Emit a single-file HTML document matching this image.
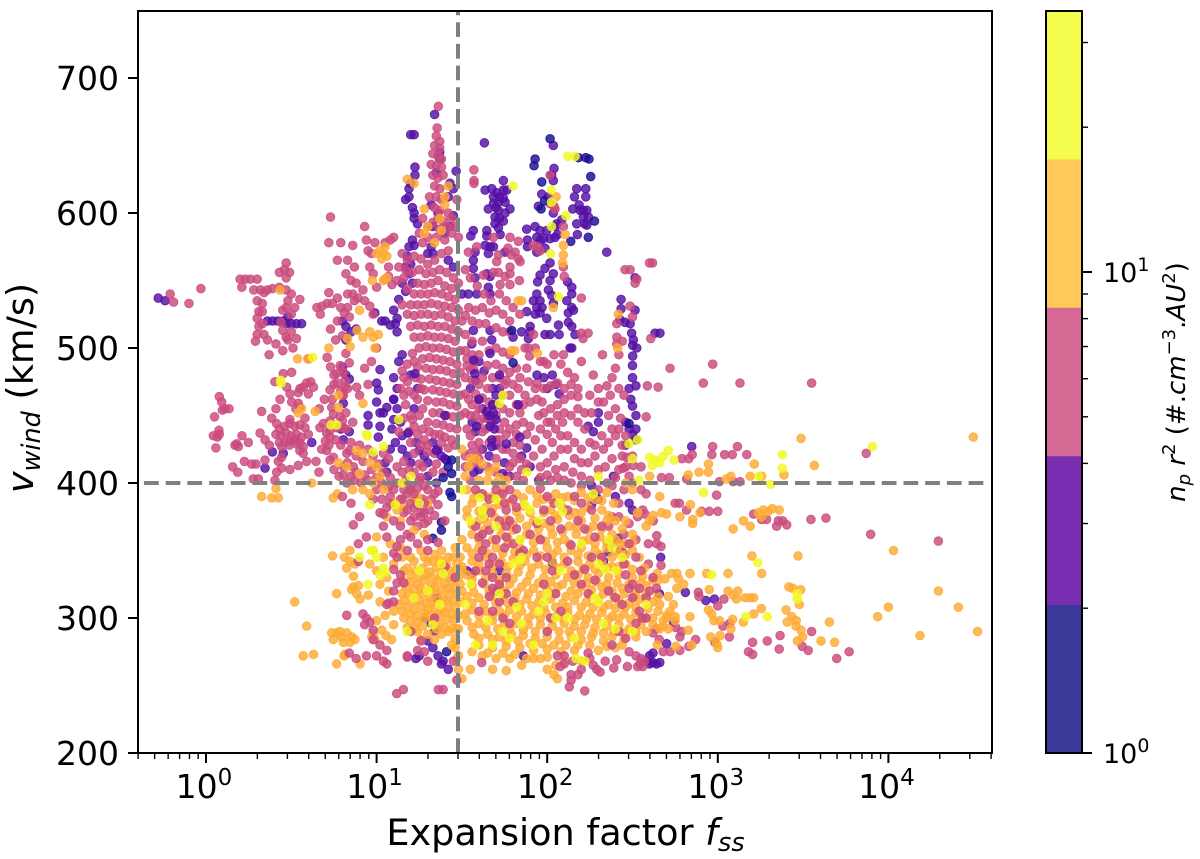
<!DOCTYPE html>
<html lang="en">
<head>
<meta charset="utf-8">
<title>Wind speed versus expansion factor</title>
<style>
html,body{margin:0;padding:0;background:#fff;width:1200px;height:859px;overflow:hidden}
svg{display:block}
text{font-family:"DejaVu Sans","Liberation Sans",sans-serif;fill:#000}
.it{font-style:italic}
</style>
</head>
<body>
<svg id="chart" xmlns="http://www.w3.org/2000/svg" width="1200" height="859" viewBox="0 0 1200 859">
<rect width="1200" height="859" fill="#fff"/>
<g id="marks"></g>
<g id="guides"></g>
<g id="axes"></g>
<g id="cbar"></g>
<text x="565.5" y="845" font-size="36.6" text-anchor="middle">Expansion factor <tspan class="it">f</tspan><tspan class="it" font-size="25.5" dy="6">ss</tspan></text>
<text transform="translate(33,388) rotate(-90)" font-size="36.6" text-anchor="middle"><tspan class="it">v</tspan><tspan class="it" font-size="25.5" dy="7">wind</tspan><tspan dy="-7"> (km/s)</tspan></text>
<text transform="translate(1185,382) rotate(-90)" font-size="26" text-anchor="middle"><tspan class="it">n</tspan><tspan class="it" font-size="18" dy="5">p</tspan><tspan class="it" dy="-5"> r</tspan><tspan font-size="18" dy="-10">2</tspan><tspan dy="10"> (#.</tspan><tspan class="it">cm</tspan><tspan font-size="18" dy="-10">−3</tspan><tspan dy="10">.</tspan><tspan class="it">AU</tspan><tspan font-size="18" dy="-10">2</tspan><tspan dy="10">)</tspan></text>
</svg>
<script>
// Axis settings and tick labels
const xDecades = [0, 1, 2, 3, 4];
const yTicks = [200, 300, 400, 500, 600, 700];
const fssThreshold = 30;
const windThreshold = 400;
const colorbarFills = ['#f3fb4c', '#ffc85a', '#d46a93', '#7a2db0', '#3b3a9b'];
const colorbarMajorTicks = [1, 10];
const colorbarMinorTicks = [2, 3, 4, 5, 6, 7, 8, 9, 20, 30];

// Points: [log10(fss), vwind in km/s]
const bluePoints = [[2.017,655],[1.929,640],[1.923,635],[1.968,623],[2.255,627],[2.183,641],[2.226,641],[2.245,640],[1.984,609],[1.964,603],[2.277,594],[2.241,582],[2.138,579],[1.792,513],[1.8,489],
[1.44,417],[1.44,407],[1.39,404],[1.44,390],[1.38,371],[1.38,365],[1.33,359],[1.41,275],[2.48,444],[2.03,341],[1.42,412],[1.43,393]];

const purplePoints = [[-.28,537],[-.24,535],[.36,520],[.39,520],[.42,520],[.45,520],[.48,523],[.5,518],[.53,518],[.56,518],[.47,518],
[1.2,658],[1.22,658],[1.34,673],[1.225,634],[1.225,628],[1.19,618],[1.17,610],[1.2,622],[1.21,604],[1.22,600],[1.19,612],[1.22,596],[1.24,592],[1.21,580],[1.22,576],[1.19,575],[1.18,568],[1.2,562],[1.17,560],[1.19,555],[1.21,548],[1.15,548],[1.17,542],[1.13,536],[1.1,528],[1.12,522],[1.08,517],[1.12,512],[1.11,518],[.99,526],[1.03,520],[1.05,520],[.82,516],[.8,520],[.85,512],[.82,506],[.8,486],[.82,480],[.88,514],[.84,477],[.389,423],[.453,422],[.346,411],[.62,430],[.805,459],[.84,438],[.805,432],[.79,440],[.95,450],[.95,443],[1.0,460],[1.02,452],
[1.37,645],[1.37,640],[1.35,630],[1.466,631],[1.43,622],[1.45,618],[1.42,612],[1.32,606],[1.36,600],[1.45,598],[1.43,590],[1.4,585],[1.33,590],[1.3,570],[1.33,570],[1.32,575],[1.42,565],[1.45,560],
[1.632,652],[2.036,650],[2.04,633],[2.026,628],[2.036,624],[1.743,624],[1.675,618],[1.743,617],[1.636,617],[1.704,615],[1.763,617],[1.685,612],[1.743,611],[1.714,608],[1.753,608],[1.685,607],[1.655,603],[1.714,602],[1.782,603],[1.694,597],[1.753,600],[1.694,592],[1.743,594],[1.714,589],[1.646,587],[1.724,584],[1.646,583],[1.72,612],[1.7,604],[1.72,596],[1.567,587],[1.552,583],
[1.665,575],[1.636,576],[1.655,570],[1.685,575],[1.577,571],[1.567,565],[1.567,559],[1.577,552],[1.646,555],[1.665,553],[1.655,545],[1.665,540],[1.587,540],[1.538,540],[1.5,540],[1.753,571],
[1.88,588],[1.884,580],[1.884,575],[1.929,590],[1.958,587],[1.939,582],[1.997,587],[1.978,581],[2.017,581],[2.046,582],[2.056,592],[2.085,595],[2.036,600],[1.948,605],[1.968,614],[2.007,612],[2.05,590],[2.06,584],[1.96,580],[2.173,618],[2.226,618],[2.16,612],[2.226,612],[2.187,606],[2.15,603],[2.193,602],[2.232,602],[2.242,597],[2.212,597],[2.173,592],[2.232,591],[2.177,584],[2.21,602],[2.22,592],[1.987,574],[1.939,571],[2.349,571],
[2.017,563],[1.987,559],[1.958,554],[2.036,555],[2.017,550],[2.007,543],[2.026,539],[1.944,549],[1.939,540],[1.919,535],[1.958,535],[1.939,530],[1.958,526],[1.88,527],[1.997,522],[1.9,516],[2.066,517],[2.07,510],[1.987,510],[2.017,510],[1.93,525],[1.97,530],
[2.12,549],[2.144,545],[2.144,540],[2.115,535],[2.144,530],[2.124,526],[2.154,528],[2.124,519],[2.144,516],[2.163,510],[2.134,500],[2.144,500],[2.036,533],[2.433,536],[2.433,529],[2.427,521],[2.456,519],[2.486,518],[2.515,528],[2.495,511],[2.505,506],[2.501,502],[2.525,500],[2.501,494],[2.632,511],[2.661,511],[2.515,552],[2.5,478],[2.52,472],[2.49,462],[2.5,457],[2.52,450],[2.46,445],[2.48,440],[2.5,436],[2.52,432],[2.46,428],[2.5,487],[2.48,470],[1.85,512],[1.9,512],[1.89,507],[1.8,508],[1.665,513],[1.675,506],[1.567,513],[1.558,503],
[2.24,442],[2.27,438],[2.3,445],[2.3,452],[2.03,480],[2.05,473],[2.07,466],[1.98,478],[2.0,470],
[1.13,490],[1.15,495],[1.1,478],[1.12,470],[1.1,462],[1.12,455],[1.1,447],[1.14,445],[1.09,440],[1.15,435],[1.11,430],[1.08,425],[1.15,425],[1.18,420],[1.2,415],[1.23,430],[1.25,424],[1.28,420],[1.3,415],[1.33,430],[1.36,425],[1.4,418],[1.3,405],[1.35,400],[1.2,480],[1.24,470],[1.22,455],[1.05,415],[1.06,408],
[1.6,490],[1.63,483],[1.58,476],[1.55,470],[1.6,462],[1.62,455],[1.65,448],[1.56,445],[1.58,438],[1.68,470],[1.7,465],[1.72,470],[1.68,458],[1.62,425],[1.66,420],[1.7,428],[1.75,415],[1.6,410],[1.78,405],[1.85,420],[1.88,426],[1.9,412],[1.95,402],[1.57,408],
[2.847,427],[2.81,319],[2.93,313],[2.98,314],[2.7,281],[2.665,345],[2.446,348],[2.36,349],[2.417,359],[2.388,405],[2.4,390],[2.26,398],[2.26,384],[2.33,342],[2.657,318],[2.52,440],[2.5,380],[2.48,385],[2.28,392],[2.3,388],
[1.3,283],[1.33,278],[1.36,272],[1.39,268],[1.42,262],[1.38,266],[1.34,290],[1.32,296],[1.28,300],[1.35,315],[1.25,272],[1.23,270],[1.53,335],[1.56,333],[1.72,335],[1.86,272],[2.58,268],[2.6,266],[2.62,267],[2.64,266],[2.66,267],[2.6,272],[2.62,274],[2.74,297]];

const pinkPoints = [[-.21,540],[-.19,534],[-.1,533],[-.03,544],[.2,551],[.23,551],[.26,551],[.3,551],[.21,545],[.28,543],[.32,543],[.36,543],[.39,544],[.43,545],
[.47,563],[.46,558],[.49,556],[.43,556],[.47,552],[.47,543],[.5,540],[.55,536],[.48,535],[.52,530],[.45,528],[.5,525],[.47,530],[.3,535],[.33,533],[.34,541],[.31,527],[.33,527],[.3,522],[.31,516],[.33,518],[.3,510],[.34,510],[.36,506],[.29,505],[.45,513],[.48,506],[.53,507],[.51,500],[.45,498],[.41,503],[.37,495],[.47,508],[.44,519],[.5,512],[.6,492],
[.078,464],[.092,460],[.111,455],[.135,455],[.096,454],[.05,449],[.076,439],[.066,434],[.043,435],[.078,436],[.058,426],[.211,435],[.248,430],[.18,429],[.17,428],[.19,427],[.317,437],[.326,453],[.41,455],[.225,416],[.268,414],[.293,414],[.156,412],[.186,408],[.277,403],[.307,403],[.346,417],
[.453,481],[.502,482],[.404,475],[.473,471],[.492,466],[.434,462],[.502,460],[.541,459],[.57,471],[.551,470],[.541,467],[.59,474],[.614,475],[.63,471],[.6,466],[.527,455],[.492,447],[.58,448],[.551,456],[.694,462],[.664,455],[.727,469],[.786,487],[.766,481],[.75,473],[.805,482],[.815,476],[.815,471],[.805,465],[.883,471],[.737,456],
[.385,448],[.414,444],[.43,440],[.46,442],[.49,444],[.52,442],[.55,443],[.58,441],[.41,436],[.44,435],[.47,437],[.5,435],[.53,436],[.56,434],[.6,436],[.43,430],[.46,430],[.49,431],[.52,432],[.55,430],[.57,427],[.53,429],[.55,424],[.57,422],
[.346,432],[.371,428],[.443,427],[.488,428],[.443,419],[.424,416],[.443,411],[.414,408],[.404,402],[.492,410],[.541,413],[.59,416],[.645,416],[.662,408],[.678,425],[.707,424],[.747,419],[.805,412],[.727,417],[.707,437],[.727,434],[.688,444],[.727,446],[.668,441],[.747,451],[.786,449],[.766,441],[.727,439],[.805,441],[.825,422],[.864,412],[.805,406],[.825,400],[.76,432],[.79,428],[.72,428],[.75,410],[.78,405],[.85,430],[.85,405],[.7,431],
[.65,530],[.68,531],[.71,533],[.74,533],[.67,525],[.77,537],[.79,530],[.81,526],[.77,520],[.73,514],[.8,509],[.76,506],[.84,523],[.87,535],[.72,541],[.83,530],
[.93,590],[.73,597],[.72,578],[.79,578],[.77,565],[.86,576],[.83,565],[.87,560],[.82,555],[.85,550],[.88,548],[.86,540],[.89,537],[.83,540],[.94,580],[.95,572],[.99,578],[.97,570],[.98,555],[.96,560],[1.0,545],[.92,543],[.93,535],[.96,531],[.98,525],[1.05,551],[1.07,553],[1.09,547],[1.07,560],[1.05,578],[1.08,580],[1.1,582],
[.71,493],[.73,486],[.75,480],[.77,474],[.79,468],[.74,462],[.82,496],[.84,489],[.83,470],[.9,465],[.95,473],[1.0,500],[.93,485],[.97,490],
[1.362,679],[1.355,663],[1.35,657],[1.37,653],[1.34,650],[1.37,648],[1.33,644],[1.36,642],[1.38,640],[1.32,636],[1.35,635],[1.38,634],[1.33,628],[1.36,626],[1.39,628],[1.34,620],[1.37,618],[1.31,612],[1.35,612],[1.38,610],[1.34,604],[1.37,602],[1.36,596],[1.39,594],[1.33,593],[1.3,590],[1.42,600],[1.44,596],[1.46,590],[1.41,590],[1.37,588],[1.44,585],[1.48,582],[1.4,580],[1.35,582],[1.3,582],[1.27,578],[1.25,585],[1.27,596],[1.47,610],
[1.57,632],[1.571,624],[1.571,622],[1.782,582],[1.831,579],[1.685,582],[1.939,575],[1.919,576],[1.958,572],[1.812,571],[1.831,566],[1.841,564],[1.77,574],[1.79,569],[1.782,560],[1.782,555],[1.714,569],[1.704,564],[1.685,556],[1.714,556],[1.626,554],[1.753,553],[1.724,547],[1.782,547],[1.837,550],[1.538,571],[1.587,575],[2.456,558],[2.486,558],[2.617,563],[2.525,551],[2.515,548],[2.2,537],[2.095,560],[2.1,553],[2.486,531],[2.5,523],[2.408,518],[2.408,508],[2.408,503],[2.2,511],[2.24,511],[2.21,507],[2.607,507],[2.324,495],[2.095,495],[1.89,500],[1.896,494],[2.017,607],[2.046,603],[2.095,590],[2.017,628],[2.04,605],
[1.15,570],[1.18,565],[1.22,568],[1.26,566],[1.3,562],[1.34,565],[1.38,570],[1.42,572],[1.13,560],[1.17,558],[1.21,556],[1.25,558],[1.29,555],[1.33,556],[1.37,558],[1.41,556],[1.45,552],[1.12,550],[1.16,552],[1.24,548],[1.28,547],[1.32,548],[1.36,550],[1.4,546],[1.44,544],[1.48,548],[1.18,544],[1.22,540],[1.26,540],[1.3,540],[1.34,541],[1.38,540],[1.42,538],[1.46,536],[1.15,532],[1.2,532],[1.24,532],[1.28,532],[1.32,533],[1.36,532],[1.4,531],[1.44,530],[1.48,528],[1.18,525],[1.22,524],[1.26,525],[1.3,525],[1.34,524],[1.38,525],[1.42,523],[1.46,520],[1.5,520],[1.2,516],[1.24,517],[1.28,516],[1.32,517],[1.36,516],[1.4,516],[1.44,514],[1.48,512],[1.22,508],[1.26,508],[1.3,509],[1.34,508],[1.38,508],[1.42,507],[1.46,505],[1.25,500],[1.29,501],[1.33,500],[1.37,500],[1.41,499],[1.45,497],[1.49,498],[1.21,496],[1.27,492],[1.31,493],[1.35,492],[1.39,491],[1.43,490],[1.47,488],[1.24,486],[1.29,485],[1.33,484],[1.37,484],[1.41,483],[1.45,481],[1.49,482],[1.26,477],[1.31,477],[1.35,476],[1.39,475],[1.43,474],[1.47,473],[1.28,469],[1.33,469],[1.37,468],[1.41,467],[1.45,466],[1.49,465],[1.3,461],[1.35,460],[1.39,460],[1.43,458],[1.47,457],[1.33,452],[1.37,452],[1.41,450],[1.45,449],[1.49,450],[1.3,445],[1.35,444],[1.39,443],[1.43,441],[1.17,458],[1.2,450],[1.16,465],[1.22,465],[1.18,475],[1.15,483],[1.25,450],[1.27,440],[1.22,442],
[1.52,558],[1.55,552],[1.59,546],[1.63,540],[1.67,535],[1.72,540],[1.76,535],[1.8,530],[1.84,525],[1.78,520],[1.74,525],[1.7,528],[1.66,526],[1.62,530],[1.58,528],[1.54,530],[1.52,524],[1.56,520],[1.6,518],[1.64,518],[1.7,515],[1.74,512],[1.78,512],[1.52,510],[1.56,505],[1.62,505],[1.66,498],[1.7,500],[1.74,497],[1.78,495],[1.52,498],[1.56,495],[1.6,495],[1.65,487],[1.7,488],[1.74,485],[1.78,482],[1.82,485],[1.53,487],[1.57,484],[1.52,478],[1.56,476],[1.6,473],[1.65,470],[1.75,473],[1.78,465],[1.83,470],[1.52,466],[1.56,458],[1.62,463],[1.7,458],[1.74,455],[1.78,452],[1.82,458],[1.52,452],[1.58,450],[1.64,440],[1.68,445],[1.72,440],[1.76,436],[1.82,443],[1.86,445],[1.55,435],[1.6,430],[1.66,430],[1.7,432],[1.74,425],[1.8,430],[1.84,428],[1.55,422],[1.6,418],[1.65,412],[1.7,418],[1.8,415],[1.85,410],[1.52,412],[1.55,402],
[1.87,500],[1.92,510],[1.93,500],[1.96,490],[1.98,490],[2.0,488],[2.04,495],[2.08,488],[2.12,482],[2.16,478],[2.18,470],[2.14,465],[2.1,462],[2.06,458],[2.02,455],[1.97,460],[1.93,470],[1.89,475],[1.87,465],[1.9,460],[2.2,490],[2.25,465],[2.3,470],[2.27,480],[2.35,472],[2.33,460],[2.37,465],[2.14,450],[2.18,445],[2.22,452],[2.09,445],[2.05,440],[2.0,445],[1.95,450],[1.9,442],[2.12,435],[2.16,430],[2.2,425],[2.08,425],[2.03,430],[1.97,425],[1.93,432],[2.24,415],[2.28,420],[2.33,425],[2.36,430],[2.38,418],[2.3,410],[2.42,410],[2.1,412],[2.15,408],[2.2,405],[2.05,410],[2.0,415],[1.96,412],
[2.72,485],[2.97,488],[2.915,474],[3.13,474],[3.55,474],[2.587,472],[2.65,471],[2.58,449],[2.97,427],[3.115,427],[3.17,421],[3.085,421],[3.04,421],[2.965,421],[2.85,421],[2.79,418],[2.83,418],[3.87,422],[2.55,412],[2.465,419],[2.505,413],[2.446,411],[2.67,404],[2.716,404],[2.817,403],[3.01,401],[3.09,401],[3.13,401],[2.993,391],[2.75,385],[2.775,385],[2.817,380],[2.905,379],[2.95,379],[3.0,379],[3.21,377],[3.257,373],[3.286,373],[3.345,368],[3.355,372],[3.38,372],[3.404,369],[3.546,373],[3.634,374],[3.896,362],[4.293,357],[2.573,377],[2.622,372],[2.642,361],[2.593,355],[2.642,355],[2.667,353],[2.593,340],[2.667,339],[2.886,319],[2.89,316],[3.036,314],[3.0,309],[3.03,294],[3.07,296],[2.753,293],[3.068,286],[2.87,284],[2.83,279],[2.778,286],[2.788,290],[2.64,292],[2.62,289],[2.657,284],[2.68,275],[2.72,275],[2.778,276],[2.983,282],[3.204,282],[3.29,283],[3.365,287],[3.55,290],[3.36,277],[3.18,275],[3.204,273],[3.495,279],[3.53,276],[3.697,270],[3.77,275],[2.6,563],
[2.44,505],[2.42,495],[2.4,485],[2.38,478],[2.42,470],[2.45,465],[2.4,455],[2.43,448],[2.42,440],[2.46,435],[2.44,428],[2.5,420],[2.45,395],[2.42,385],[2.38,375],[2.36,368],[2.42,375],[2.48,370],[2.45,362],[2.52,358],[2.38,355],[2.43,350],[2.35,400],[2.3,395],[2.55,395],[2.5,400],[2.58,392],[2.56,380],[2.53,375]];

// Extra mid-density points filling the dense central body
const pinkFillPoints = [[.8,465],[.82,452],[.8,446],[.84,424],[.88,420],[.92,416],[.95,425],[.98,420],[1.01,414],[1.04,422],[1.07,418],[.88,408],[.93,406],[.97,410],[1.0,404],[1.04,408],[1.08,404],[1.12,412],[1.15,408],[1.17,402],[.82,440],[.86,445],[.83,415],[.9,428],[.87,402],[.91,400],[.95,402],[1.03,400],[1.07,397],[1.12,400],[1.2,398],
[1.22,490],[1.18,488],[1.16,478],[1.14,470],[1.19,468],[1.23,478],[1.26,470],[1.24,462],[1.27,455],[1.21,447],[1.19,438],[1.24,436],[1.28,432],[1.31,438],[1.34,436],[1.37,436],[1.4,434],[1.44,432],[1.47,440],[1.3,428],[1.34,422],[1.38,430],[1.42,426],[1.46,428],[1.16,448],[1.13,438],[1.25,414],[1.3,423],[1.22,408],[1.26,404],[1.16,416],[1.35,414],[1.39,408],[1.28,398],[1.33,408],[1.24,396],[1.32,388],[1.36,394],[1.27,388],[1.22,382],[1.31,380],[1.36,384],[1.26,378],[1.2,430],[1.26,428],[1.22,422],[1.27,412],[1.19,410],
[1.14,388],[1.18,392],[1.16,378],[1.2,372],[1.28,370],[1.18,362],[1.24,368],[1.08,390],[1.03,388],[1.0,395],[.98,388],[1.02,378],[1.06,382],[1.04,368],[1.14,358],[1.1,348],
[1.53,492],[1.55,484],[1.57,490],[1.62,478],[1.54,462],[1.58,466],[1.6,455],[1.55,450],[1.6,445],[1.62,438],[1.56,428],[1.6,424],[1.53,440],[1.52,420],[1.57,415],[1.63,448],[1.66,460],[1.68,478],[1.72,478],[1.76,476],[1.74,465],[1.7,450],[1.75,445],[1.78,440],[1.72,432],[1.76,425],[1.82,436],[1.8,422],[1.84,418],[1.78,412],[1.82,405],[1.86,402],[1.76,405],[1.7,408],[1.88,414],[1.92,420],[1.88,436],[1.84,452],[1.86,458],[1.88,485],[1.84,478],[1.8,473],
[1.94,474],[1.98,470],[2.02,472],[2.06,474],[2.1,470],[2.14,473],[2.18,464],[1.94,462],[1.98,452],[2.02,445],[2.06,450],[2.1,452],[1.96,440],[2.0,436],[2.04,420],[2.08,435],[2.12,425],[2.16,418],[2.2,415],[2.25,430],[2.28,428],[2.32,435],[2.3,460],[2.36,450],[2.4,435],[2.38,440],[2.22,440],[2.26,452],[2.18,455],[2.02,402],[2.06,404],[2.1,402],[2.14,400],[2.0,406],[1.96,404],[2.25,402],[2.2,398],[2.38,398],[2.4,404],[2.34,412],[2.44,420],[2.46,412],[2.48,405]];

const purpleTopPoints = [[1.02,484],[1.0,474],[1.01,469],[1.1,462],[1.06,456],[1.04,452],[1.02,442],[1.01,434],[1.185,437],[1.35,424],[1.38,420],[1.41,417],[1.225,481],[1.4,450],[1.57,491],[1.576,481],[1.72,480],[1.665,496],[1.83,458],[1.94,480],[1.685,452],[1.645,453],[1.7,447],[1.665,442],[1.68,458],[1.66,450],[1.69,440],[1.586,442],[1.675,432],[1.675,427],[1.74,407],[1.84,434],[1.76,429],[1.6,462]];

const orangePoints = [[1.02,572],[1.04,570],[1.03,566],[1.05,575],[1.0,570],[1.06,568],[1.04,550],[.975,550],[1.06,552],[.9,528],[.885,513],[.92,508],[.96,512],[1.01,510],[.83,507],[.845,501],[.99,500],[.98,508],[.72,500],[.537,492],[.596,492],[1.18,625],[1.22,622],[1.3,590],[1.28,585],[1.34,578],[1.4,606],[1.38,587],[1.37,596],[1.28,603],[1.4,612],[1.42,620],[.434,543],
[.54,452],[.56,455],[.64,453],[.776,465],[.776,456],[.92,459],[.62,400],[.41,396],[.326,390],[.385,389],[.424,389],[.776,415],[.825,412],[.9,407],[.883,424],[.92,422],[.96,415],[1.0,412],[1.02,405],[.98,400],[.86,395],[.92,395],[.96,392],[1.04,395],
[2.105,584],[2.095,576],[2.095,569],[2.09,563],[2.052,612],[2.417,525],[2.413,500],[1.83,535],[1.85,535],[1.79,498],[1.81,498],[1.943,496],[2.036,530],
[.746,389],[.77,392],[.742,346],[.811,345],[.844,350],[.844,342],[.873,340],[.825,337],[.864,331],[.864,323],[.893,324],[.854,321],[.883,318],[.903,314],[.952,317],[.766,318],[.737,289],[.766,289],[.746,284],[.795,286],[.825,289],[.854,286],[.805,282],[.844,282],[.873,284],[.785,290],[.971,286],[.991,284],[1.03,291],[1.088,284],[1.055,287],[.57,272],[.63,273],[.766,266],[.903,266],[.815,273],[.59,294],[.52,312],[.81,272],[.98,288],
[1.14,352],[1.2,345],[1.26,350],[1.3,342],[1.34,347],[1.38,350],[1.42,345],[1.46,352],[1.18,337],[1.23,335],[1.27,337],[1.31,334],[1.35,337],[1.39,338],[1.43,335],[1.47,340],[1.15,328],[1.2,327],[1.24,325],[1.28,328],[1.32,324],[1.36,328],[1.4,325],[1.44,328],[1.48,330],[1.15,318],[1.19,318],[1.23,316],[1.27,318],[1.31,315],[1.35,318],[1.39,315],[1.43,318],[1.47,318],[1.13,310],[1.18,308],[1.22,306],[1.26,309],[1.3,306],[1.34,308],[1.38,305],[1.42,309],[1.46,308],[1.16,300],[1.2,298],[1.24,297],[1.28,300],[1.33,298],[1.37,296],[1.41,299],[1.45,298],[1.24,290],[1.3,288],[1.38,288],[1.42,290],[1.46,285],[1.1,295],[1.44,280],[1.48,272],[1.48,262],[1.5,255],[1.47,270],[1.14,372],[1.22,365],[1.28,362],[1.24,390],[1.3,385],[1.12,380],[1.06,375],[1.0,360],[.98,350],
[1.53,395],[1.6,392],[1.68,390],[1.75,396],[1.82,392],[1.9,395],[1.98,388],[2.05,392],[2.12,390],[2.2,393],[2.28,388],[2.35,393],[1.56,385],[1.64,382],[1.72,384],[1.78,386],[1.86,383],[1.94,385],[2.02,380],[2.09,382],[2.16,378],[2.24,382],[2.32,380],[2.4,372],[1.53,375],[1.6,372],[1.69,375],[1.76,373],[1.84,374],[1.92,372],[1.98,370],[2.06,373],[2.13,368],[2.2,372],[2.27,368],[2.35,372],[2.44,366],[1.56,362],[1.63,365],[1.73,362],[1.8,365],[1.88,362],[1.95,360],[2.03,362],[2.1,358],[2.17,362],[2.24,358],[2.31,360],[2.38,362],[2.46,355],[1.53,352],[1.6,352],[1.7,352],[1.77,355],[1.84,352],[1.92,350],[2.0,352],[2.06,350],[2.14,350],[2.2,352],[2.28,350],[2.35,352],[2.42,348],[2.5,350],[1.56,342],[1.64,345],[1.73,342],[1.8,344],[1.87,342],[1.95,340],[2.03,342],[2.1,340],[2.18,342],[2.25,340],[2.32,342],[2.38,338],[2.46,340],[1.53,332],[1.6,335],[1.68,333],[1.76,333],[1.83,334],[1.9,332],[1.98,330],[2.05,332],[2.12,330],[2.18,332],[2.24,330],[2.3,333],[2.36,330],[2.42,332],[2.5,330],[2.56,331],[1.56,324],[1.63,325],[1.72,323],[1.78,325],[1.85,323],[1.92,322],[2.0,321],[2.06,323],[2.14,320],[2.2,323],[2.26,321],[2.32,323],[2.38,320],[2.44,322],[2.52,320],[2.58,324],[1.53,316],[1.6,315],[1.67,316],[1.74,315],[1.81,315],[1.88,314],[1.95,312],[2.02,314],[2.09,311],[2.16,313],[2.23,312],[2.3,314],[2.36,310],[2.42,313],[2.48,311],[2.54,314],[2.62,312],[1.56,306],[1.64,305],[1.72,305],[1.78,306],[1.85,305],[1.92,303],[1.99,304],[2.06,302],[2.12,304],[2.19,302],[2.25,303],[2.32,304],[2.38,301],[2.45,303],[2.52,304],[2.58,300],[2.65,305],[1.53,298],[1.6,296],[1.68,298],[1.75,296],[1.82,296],[1.89,295],[1.96,295],[2.03,294],[2.1,296],[2.16,294],[2.22,295],[2.28,293],[2.35,294],[2.42,295],[2.48,292],[2.55,295],[2.62,295],[2.68,298],[1.57,288],[1.65,288],[1.72,286],[1.79,288],[1.86,287],[1.93,285],[2.0,286],[2.07,284],[2.14,286],[2.2,284],[2.26,286],[2.33,283],[2.38,286],[2.45,284],[2.52,286],[1.6,280],[1.68,278],[1.76,279],[1.84,278],[1.92,276],[2.0,277],[2.08,275],[2.16,276],[2.3,276],[2.4,278],[1.62,272],[1.7,270],[1.78,270],[1.85,265],[1.88,270],[1.96,270],[2.05,265],[2.0,262],[2.04,258],[2.06,255],[2.2,268],[1.55,262],[1.68,262],[1.76,261],
[3.488,433],[4.498,434],[3.566,413],[3.214,414],[2.945,414],[2.945,408],[2.89,408],[2.827,406],[3.19,405],[3.257,405],[3.388,406],[3.05,403],[3.077,405],[2.84,384],[2.778,375],[2.853,373],[2.853,370],[2.896,378],[3.09,366],[3.15,372],[3.19,368],[3.238,378],[3.267,380],[3.296,379],[3.32,381],[3.36,380],[3.257,375],[3.2,346],[3.47,346],[4.03,350],[3.257,333],[3.06,333],[2.935,333],[2.837,333],[2.73,333],[2.76,333],[2.77,329],[2.8,325],[2.76,322],[2.71,316],[2.65,328],[2.69,329],[2.645,333],[2.95,321],[3.06,320],[3.117,320],[3.09,317],[3.11,314],[3.16,315],[3.19,315],[3.21,315],[3.417,323],[3.44,322],[3.486,321],[3.478,310],[4.293,320],[4.41,308],[4.0,308],[3.937,301],[4.523,290],[4.185,287],[3.4,306],[3.255,307],[3.21,303],[3.15,297],[3.087,299],[3.077,292],[3.013,287],[2.958,286],[2.993,281],[3.0,278],[2.945,306],[2.964,303],[2.978,298],[3.01,298],[2.837,301],[2.75,301],[2.75,298],[2.827,291],[2.847,280],[2.755,279],[2.645,280],[3.433,301],[3.407,297],[3.46,298],[3.458,294],[3.488,291],[3.497,286],[3.466,283],[3.605,283],[3.685,282],[3.654,297],[2.7,300],[2.72,305],[2.74,310],[2.68,294],[2.71,292],[2.46,400],[2.5,395],[2.6,372],[2.58,368],[2.62,376],[2.53,378],[2.67,378],[2.7,377],[2.6,405],[2.66,390]];

// Extra high-density points filling the lower cloud
const orangeFillPoints = [[1.57,389],[1.64,390],[1.72,391],[1.86,389],[1.94,391],[2.02,388],[2.09,389],[2.16,387],[2.24,389],[2.32,387],[2.39,385],
[1.53,380],[1.6,379],[1.68,381],[1.82,379],[1.9,378],[1.98,378],[2.05,376],[2.13,376],[2.2,378],[2.28,374],[2.36,376],[2.46,372],
[1.56,369],[1.65,370],[1.73,368],[1.8,369],[1.88,368],[1.95,366],[2.02,367],[2.09,364],[2.17,367],[2.24,365],[2.32,366],[2.4,358],[2.5,362],
[1.5,358],[1.6,358],[1.68,358],[1.77,359],[1.84,358],[1.92,356],[1.99,357],[2.06,356],[2.13,355],[2.21,357],[2.28,355],[2.35,356],[2.43,355],[2.5,356],
[1.56,348],[1.65,348],[1.74,348],[1.81,349],[1.88,347],[1.96,346],[2.03,347],[2.1,345],[2.18,347],[2.24,346],[2.31,347],[2.38,345],[2.46,347],[2.54,345],
[1.5,338],[1.6,340],[1.68,339],[1.77,338],[1.84,339],[1.91,337],[1.99,336],[2.06,337],[2.14,335],[2.21,337],[2.28,336],[2.35,337],[2.42,338],[2.5,336],[2.57,337],
[1.56,329],[1.64,330],[1.72,328],[1.8,329],[1.88,327],[1.95,326],[2.02,327],[2.09,325],[2.16,326],[2.23,326],[2.29,327],[2.35,325],[2.41,326],[2.48,325],[2.55,326],[2.62,328],
[1.5,320],[1.57,319],[1.66,320],[1.75,320],[1.82,319],[1.89,318],[1.96,317],[2.04,318],[2.11,316],[2.18,318],[2.25,317],[2.33,318],[2.39,316],[2.45,318],[2.51,316],[2.58,318],[2.65,316],
[1.56,311],[1.63,310],[1.7,311],[1.77,311],[1.84,310],[1.91,309],[1.98,308],[2.05,308],[2.12,308],[2.2,308],[2.27,308],[2.33,308],[2.4,307],[2.46,308],[2.52,308],[2.59,307],[2.66,310],
[1.52,303],[1.6,302],[1.68,302],[1.75,302],[1.82,301],[1.89,300],[1.96,300],[2.03,299],[2.09,300],[2.16,299],[2.23,299],[2.29,299],[2.36,299],[2.42,300],[2.49,299],[2.55,300],[2.62,300],[2.7,302],
[1.56,293],[1.64,293],[1.71,292],[1.78,292],[1.86,291],[1.93,290],[2.0,290],[2.07,290],[2.13,290],[2.2,290],[2.27,289],[2.33,289],[2.39,290],[2.45,289],[2.52,290],[2.58,290],[2.66,292],
[1.6,285],[1.68,284],[1.76,283],[1.83,283],[1.9,281],[1.97,281],[2.04,280],[2.11,280],[2.18,280],[2.25,280],[2.35,279],[2.44,280],[1.56,275],[1.65,274],[1.74,274],[1.81,273],[1.92,270],[2.0,271],[2.1,268],
[1.15,345],[1.22,342],[1.28,345],[1.33,342],[1.37,343],[1.41,340],[1.45,345],[1.49,345],[1.16,335],[1.2,332],[1.25,330],[1.29,332],[1.33,330],[1.38,332],[1.42,330],[1.46,334],[1.5,335],[1.17,323],[1.22,321],[1.26,322],[1.3,320],[1.34,323],[1.38,321],[1.42,322],[1.46,323],[1.49,325],[1.16,313],[1.21,312],[1.25,313],[1.29,311],[1.33,312],[1.37,311],[1.41,313],[1.45,313],[1.49,312],[1.15,305],[1.2,303],[1.24,302],[1.28,304],[1.32,302],[1.36,302],[1.4,304],[1.44,303],[1.48,302],[1.18,293],[1.22,292],[1.27,294],[1.35,292],[1.4,293],[1.44,292],[1.48,292],[1.26,284],[1.34,284],[1.46,278],[1.47,292],
[1.02,325],[1.06,330],[1.1,340],[1.04,345],[1.08,355],[1.0,335],[.96,340],[1.02,312],[1.07,320],[1.1,305],[1.05,302],[1.0,298],
[1.58,418],[1.62,414],[1.66,408],[1.7,412],[1.72,404],[1.54,412],[1.6,402],[1.65,402],[1.7,400],[1.76,402],[1.5,425],[1.52,405],[1.55,418],[1.1,385],[1.16,382],[1.22,388]];

// Mid-density points that sit on top of the orange cloud
const pinkTopPoints = [[1.1,395],[1.15,388],[1.08,385],[1.2,385],[1.04,377],[1.1,372],[1.14,368],[1.06,360],[1.12,353],[.8,390],[.85,385],[.9,375],[.864,369],[.94,360],[.893,355],[.893,342],[.825,302],[1.18,271],[1.118,244],[1.157,247],[1.362,247],[1.39,247],[1.616,267],[2.22,246],[2.14,258],[2.14,254],[2.13,249],
[.92,303],[.94,300],[.96,297],[.98,291],[.93,295],[.98,284],[1.02,280],[1.06,276],[1.0,272],[1.04,268],[1.06,266],[.84,274],[.88,270],[.94,272],[1.06,310],[1.07,311],[1.1,336],[1.14,332],[1.16,326],[1.12,326],[1.1,320],[1.18,272],
[1.2,395],[1.25,402],[1.3,395],[1.34,392],[1.28,385],[1.22,375],[1.26,375],[1.3,372],[1.34,376],[1.2,360],[1.24,355],[1.3,358],[1.4,372],
[1.58,395],[1.62,392],[1.66,388],[1.7,395],[1.75,385],[1.63,375],[1.67,378],[1.72,372],[1.76,368],[1.62,362],[1.66,365],[1.7,358],[1.75,352],[1.62,350],[1.68,345],[1.72,340],[1.64,335],[1.68,330],[1.72,325],[1.76,330],[1.7,320],[1.66,316],[1.8,312],[1.6,305],
[2.0,345],[2.03,335],[1.98,325],[2.05,318],[2.08,305],[2.02,300],[2.0,290],[1.94,345],[1.96,358],[2.12,380],[2.16,390],[2.2,385],[1.9,362],[1.86,350],[2.06,272],[2.1,266],[2.075,264],[2.15,268],[2.2,262],[2.27,265],[2.31,260],[2.407,269],[2.39,263],[2.29,262],[2.25,270],
[2.2,325],[2.24,318],[2.28,328],[2.32,345],[2.36,320],[2.4,315],[2.44,310],[2.48,322],[2.5,325],[2.54,305],[2.52,296],[2.56,300],[2.42,290],[2.46,285],[2.38,280],[2.48,275],[2.52,272],[2.544,266],[2.55,270],[2.56,264],[2.53,264],[2.57,268],
[1.26,283],[1.2,290],[1.28,275],[1.34,300],[1.4,338],[1.46,330],[1.45,268],[1.47,254],[2.48,355],[2.45,340],[2.52,345],[2.55,335],
[1.74,392],[1.78,395],[1.8,388],[1.76,380],[1.82,382],[1.78,372],[1.82,366],[1.76,360],[1.8,355],[1.84,348],[1.58,368],[1.6,360],[1.64,355],[1.6,345],[1.66,340],[1.58,335],[1.62,326],[1.68,322],[1.76,318],[1.72,312],[1.68,305],[1.74,300],[1.78,296],
[1.96,396],[2.0,390],[2.04,385],[1.98,380],[2.02,372],[1.94,370],[2.08,366],[2.14,354],[2.18,372],[2.22,366],[2.26,380],[2.28,360],[2.32,368],[2.12,342],[2.16,332],[2.22,336],[2.26,345],[2.46,332],[2.5,315],[2.54,322],[2.58,315],[2.62,330],[2.6,320],[2.64,322],[2.58,300],[2.1,272],[2.18,258],[2.24,274],[2.34,268],[2.47,264],
[1.18,380],[1.22,392],[1.28,378],[1.24,384],[1.16,395],[1.12,345],[1.18,350],[1.3,350],[1.36,356],[1.1,312],[1.24,276],[1.3,268]];

const yellowPoints = [[.438,476],[.44,474],[.625,493],[.733,443],[.766,443],[.946,435],[.98,423],[1.04,427],[.9,345],[.98,350],[1.0,345],[1.05,334],[.95,325],[1.13,447],[.94,436],
[2.12,642],[2.163,642],[2.025,617],[2.025,608],[2.11,598],[2.025,590],[2.02,570],[2.066,538],[1.8,620],
[1.2,405],[1.25,385],[1.15,400],[1.5,395],[1.62,380],[1.55,372],[1.7,388],[1.9,380],[1.95,372],[1.85,345],[2.27,392],[2.3,405],[2.36,358],[2.38,352],[2.44,345],[2.3,340],[2.34,336],[2.4,335],[2.2,355],[2.28,315],[1.74,465],[1.72,459],[1.88,408],[.96,384],[1.11,384],[1.605,389],[1.7,368],[1.87,384],[1.625,375],[.97,350],[1.04,337],[1.02,332],[1.39,333],[2.07,385],[2.09,379],[1.84,358],[1.84,343],
[1.18,290],[1.22,315],[1.3,320],[1.33,295],[1.37,310],[1.25,335],[1.38,340],[1.52,310],[1.55,325],[1.65,298],[1.72,318],[1.74,290],[1.68,280],[1.58,280],[1.78,285],[1.85,296],[1.95,305],[1.98,312],[2.0,318],[2.05,300],[2.12,300],[2.16,285],[2.22,268],[2.3,312],[2.33,296],[2.4,292],[2.5,290],[2.58,310],[2.17,270],[1.92,280],[1.82,308],[1.8,340],[2.08,335],
[3.906,427],[3.378,421],[3.378,411],[3.24,405],[3.31,399],[2.917,393],[2.6,419],[2.632,417],[2.66,415],[2.616,413],[2.68,420],[2.71,424],[2.743,417],[2.538,402],[3.234,341],[2.964,332],[3.466,318],[3.466,314],[3.165,301],[3.29,301],[2.48,429],[2.53,432],[2.5,418]];

// Scales
const xOf = lg => 206 + 170.6 * lg;
const yOf = v => 753 - 1.35 * (v - 200);
const cbarY = c => 753 - 481 * Math.log10(c);
const NS = 'http://www.w3.org/2000/svg';
function mk(tag, attrs, parent) {
  const el = document.createElementNS(NS, tag);
  for (const k in attrs) el.setAttribute(k, attrs[k]);
  parent.appendChild(el);
  return el;
}
const marks = document.getElementById('marks');
const axes = document.getElementById('axes');
const guides = document.getElementById('guides');
const cbar = document.getElementById('cbar');

// Scatter points
function drawSeries(points, color, name) {
  const group = mk('g', {fill: color, stroke: color, 'fill-opacity': .82, 'stroke-opacity': .82, 'stroke-width': 1}, marks);
  
  
  points.forEach(p => {
    if (p[1] < 200) return;
    const dot = mk('circle', {cx: xOf(p[0]), cy: yOf(p[1]), r: 4.3}, group);
    
    
  });
}
drawSeries(purplePoints, '#5410a5', 'series-density-low');
drawSeries(pinkPoints, '#cb4a7e', 'series-density-mid');
drawSeries(pinkFillPoints, '#cb4a7e', 'series-density-mid-fill');
drawSeries(purpleTopPoints, '#5410a5', 'series-density-low-overlay');
drawSeries(bluePoints, '#170d92', 'series-density-lowest');
drawSeries(orangePoints, '#feab34', 'series-density-high');
drawSeries(orangeFillPoints, '#feab34', 'series-density-high-fill');
drawSeries(pinkTopPoints, '#cb4a7e', 'series-density-mid-overlay');
drawSeries(yellowPoints, '#f0f921', 'series-density-highest');

// Threshold lines
const vLine = mk('line', {x1: xOf(Math.log10(fssThreshold)), x2: xOf(Math.log10(fssThreshold)), y1: 753, y2: 11, stroke: '#7f7f7f', 'stroke-width': 4, 'stroke-dasharray': '14.7 7'}, guides);


const hLine = mk('line', {x1: 144, x2: 985, y1: yOf(windThreshold), y2: yOf(windThreshold), stroke: '#7f7f7f', 'stroke-width': 4, 'stroke-dasharray': '14.7 7'}, guides);



// Plot frame
const frame = mk('rect', {x: 138, y: 11, width: 854, height: 742, fill: 'none', stroke: '#000', 'stroke-width': 2}, axes);



// Y ticks
yTicks.forEach(v => {
  const t = mk('line', {x1: 128, x2: 138, y1: yOf(v), y2: yOf(v), stroke: '#000', 'stroke-width': 2}, axes);
  
  
  const l = mk('text', {x: 119, y: yOf(v) + 12, 'font-size': 33, 'text-anchor': 'end'}, axes);
  l.textContent = v;
  
  
});

// X ticks
xDecades.forEach(d => {
  const t = mk('line', {x1: xOf(d), x2: xOf(d), y1: 753, y2: 763, stroke: '#000', 'stroke-width': 2}, axes);
  
  
  const l = mk('text', {x: xOf(d) - 2, y: 798, 'font-size': 33, 'text-anchor': 'middle'}, axes);
  l.textContent = '10';
  const s = mk('tspan', {'font-size': 23, dy: -13}, l);
  s.textContent = d;
  
  
});
[-1, 0, 1, 2, 3, 4].forEach(d => {
  [2, 3, 4, 5, 6, 7, 8, 9].forEach(m => {
    const lg = d + Math.log10(m);
    const px = xOf(lg);
    if (px < 138 || px > 992) return;
    const t = mk('line', {x1: px, x2: px, y1: 753, y2: 759, stroke: '#000', 'stroke-width': 1.4}, axes);
    
    
  });
});

// Colorbar
colorbarFills.forEach((fill, i) => {
  const top = 11 + i * 148.4;
  const seg = mk('rect', {x: 1046, y: top, width: 36, height: 148.6, fill: fill}, cbar);
  
  
});
const cbFrame = mk('rect', {x: 1046, y: 11, width: 36, height: 742, fill: 'none', stroke: '#000', 'stroke-width': 2}, cbar);


colorbarMajorTicks.forEach(c => {
  const t = mk('line', {x1: 1082, x2: 1092, y1: cbarY(c), y2: cbarY(c), stroke: '#000', 'stroke-width': 2}, cbar);
  
  
  const l = mk('text', {x: 1103, y: cbarY(c) + 10, 'font-size': 27}, cbar);
  l.textContent = '10';
  const s = mk('tspan', {'font-size': 19, dy: -11}, l);
  s.textContent = Math.round(Math.log10(c));
  
  
});
colorbarMinorTicks.forEach(c => {
  const t = mk('line', {x1: 1082, x2: 1088, y1: cbarY(c), y2: cbarY(c), stroke: '#000', 'stroke-width': 1.4}, cbar);
  
  
});
</script>
</body>
</html>
